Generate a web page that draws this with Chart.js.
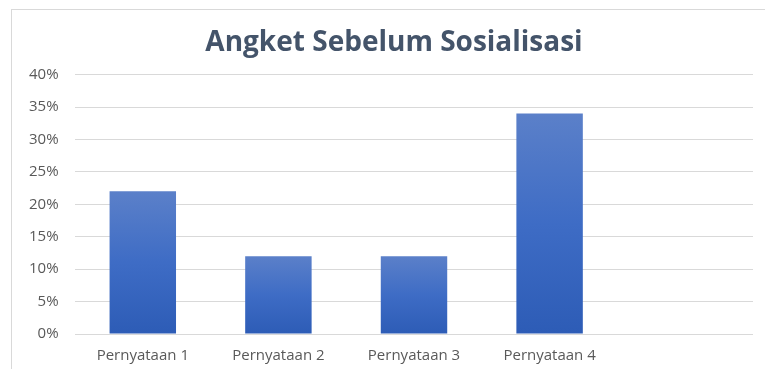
<!DOCTYPE html>
<html lang="id">
<head>
  <meta charset="UTF-8">
  <title>Angket Sebelum Sosialisasi</title>
  <script src="https://cdn.jsdelivr.net/npm/chart.js"></script>
  <style>
    body { margin: 0; background: #fff; font-family: "Open Sans", sans-serif; }
    .frame { position: absolute; left: 11px; top: 9px; width: 800px; height: 400px; border: 1px solid #d9d9d9; }
    .chart-container { position: absolute; left: 0; top: 0; width: 765px; height: 369px; }
  </style>
</head>
<body>
  <div class="frame"></div>
  <div class="chart-container">
    <canvas id="angketChart" width="765" height="369"></canvas>
  </div>

  <script>
    // data angket (persentase)
    const kategori = ['Pernyataan 1', 'Pernyataan 2', 'Pernyataan 3', 'Pernyataan 4', ''];
    const nilai = [0.22, 0.12, 0.12, 0.34, null];
    const tickY = [0, 0.05, 0.10, 0.15, 0.20, 0.25, 0.30, 0.35, 0.40];

    // gradien per batang: atas lebih terang, bawah lebih gelap
    function warnaBatang(context) {
      const chart = context.chart;
      const yScale = chart.scales.y;
      if (!chart.chartArea || !yScale || !context.parsed) return '#4472c4';
      const atas = yScale.getPixelForValue(context.parsed.y);
      const bawah = yScale.getPixelForValue(0);
      if (!Number.isFinite(atas) || !Number.isFinite(bawah) || atas === bawah) return '#4472c4';
      const g = chart.ctx.createLinearGradient(0, atas, 0, bawah);
      g.addColorStop(0, '#5b80c9');
      g.addColorStop(0.5, '#3e6cc5');
      g.addColorStop(1, '#2d5cb6');
      return g;
    }

    const ctx = document.getElementById('angketChart').getContext('2d');
    new Chart(ctx, {
      type: 'bar',
      data: {
        labels: kategori,
        datasets: [{
          label: 'Angket Sebelum Sosialisasi',
          data: nilai,
          backgroundColor: warnaBatang,
          categoryPercentage: 1,
          barPercentage: 0.49
        }]
      },
      options: {
        responsive: false,
        animation: false,
        layout: { padding: { left: 35, right: 12, top: 0, bottom: 0 } },
        plugins: {
          legend: { display: false },
          tooltip: { enabled: false },
          title: {
            display: true,
            text: 'Angket Sebelum Sosialisasi',
            color: '#44546a',
            font: { family: 'Open Sans', size: 28, weight: 'bold' },
            padding: { top: 26, bottom: 15 }
          }
        },
        scales: {
          x: {
            grid: { display: false },
            border: { display: false },
            ticks: {
              color: '#595959',
              font: { family: 'Open Sans', size: 15 },
              padding: 5,
              maxRotation: 0
            },
            afterFit: s => { s.height = 35; }
          },
          y: {
            min: 0,
            max: 0.4,
            afterBuildTicks: s => { s.ticks = tickY.map(v => ({ value: v })); },
            grid: { color: '#d9d9d9', lineWidth: 1, drawTicks: false },
            border: { display: false },
            ticks: {
              color: '#595959',
              font: { family: 'Open Sans', size: 15 },
              mirror: true,
              crossAlign: 'far',
              padding: -46,
              callback: v => Math.round(v * 100) + '%'
            },
            afterFit: s => { s.width = 40; }
          }
        }
      }
    });
  </script>
</body>
</html>
